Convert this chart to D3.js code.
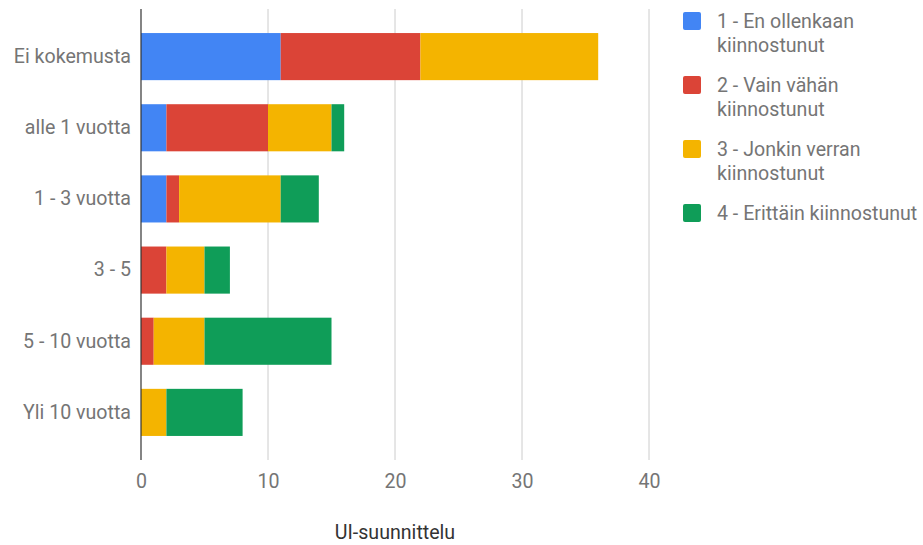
<!DOCTYPE html>
<html>
<head>
<meta charset="utf-8">
<script src="https://cdn.jsdelivr.net/npm/d3@7"></script>
<style>
  body { margin: 0; background: #fff; }
  text { font-family: Roboto, "Noto Sans", sans-serif; }
</style>
</head>
<body>
<div id="chart"></div>
<script>
// data
const categories = ["Ei kokemusta", "alle 1 vuotta", "1 - 3 vuotta", "3 - 5", "5 - 10 vuotta", "Yli 10 vuotta"];
const seriesNames = ["1 - En ollenkaan kiinnostunut", "2 - Vain vähän kiinnostunut", "3 - Jonkin verran kiinnostunut", "4 - Erittäin kiinnostunut"];
const legendLines = [["1 - En ollenkaan", "kiinnostunut"], ["2 - Vain vähän", "kiinnostunut"], ["3 - Jonkin verran", "kiinnostunut"], ["4 - Erittäin kiinnostunut"]];
const s1 = [11, 2, 2, 0, 0, 0];
const s2 = [11, 8, 1, 2, 1, 0];
const s3 = [14, 5, 8, 3, 4, 2];
const s4 = [0, 1, 3, 2, 10, 6];
const xTicks = [0, 10, 20, 30, 40];
const axisTitle = "UI-suunnittelu";
const colors = ["#4285f4", "#db4437", "#f4b400", "#0f9d58"];

const W = 923, H = 545;
const plot = {left: 141, right: 649, top: 9, bottom: 460};
const fs = 19.6;

const svg = d3.select("#chart").append("svg")
    .attr("width", W)
    .attr("height", H);

// build a table for d3.stack
const keys = ["s1", "s2", "s3", "s4"];
const table = categories.map((c, i) => ({cat: c, s1: s1[i], s2: s2[i], s3: s3[i], s4: s4[i]}));
const stacked = d3.stack().keys(keys)(table);

const x = d3.scaleLinear()
    .domain([0, 40])
    .range([plot.left, plot.right]);

const y = d3.scaleBand()
    .domain(categories)
    .range([plot.top, plot.bottom])
    .paddingInner(0.338)
    .paddingOuter(0.338);

const color = d3.scaleOrdinal().domain(keys).range(colors);

// gridlines
svg.append("g")
    .selectAll("line")
    .data(xTicks.slice(1))
    .join("line")
    .attr("x1", d => x(d))
    .attr("x2", d => x(d))
    .attr("y1", plot.top)
    .attr("y2", plot.bottom)
    .attr("stroke", "#cccccc")
    .attr("stroke-width", 1);

// bars
svg.append("g")
    .selectAll("g")
    .data(stacked)
    .join("g")
    .attr("fill", d => color(d.key))
    .selectAll("rect")
    .data(d => d)
    .join("rect")
    .attr("x", d => x(d[0]))
    .attr("y", d => y(d.data.cat))
    .attr("width", d => Math.max(0, x(d[1]) - x(d[0])))
    .attr("height", y.bandwidth());

// baseline axis
svg.append("line")
    .attr("x1", x(0)).attr("x2", x(0))
    .attr("y1", plot.top).attr("y2", plot.bottom)
    .attr("stroke", "#333333")
    .attr("stroke-width", 1.2);

// x tick labels
const xAxis = svg.append("g")
    .attr("transform", "translate(0," + plot.bottom + ")")
    .call(d3.axisBottom(x).tickValues(xTicks).tickSize(0).tickPadding(14));
xAxis.select(".domain").remove();
xAxis.selectAll("text")
    .attr("font-size", fs)
    .attr("fill", "#757575")
    .attr("font-family", "Roboto, sans-serif");

// category labels
const yAxis = svg.append("g")
    .attr("transform", "translate(" + plot.left + ",0)")
    .call(d3.axisLeft(y).tickSize(0).tickPadding(10));
yAxis.select(".domain").remove();
yAxis.selectAll("text")
    .attr("font-size", fs)
    .attr("fill", "#757575")
    .attr("font-family", "Roboto, sans-serif");

// axis title
svg.append("text")
    .attr("x", (plot.left + plot.right) / 2)
    .attr("y", 539)
    .attr("text-anchor", "middle")
    .attr("font-size", fs)
    .attr("fill", "#333333")
    .text(axisTitle);

// legend
const legend = svg.append("g")
    .selectAll("g")
    .data(seriesNames)
    .join("g")
    .attr("transform", (d, i) => "translate(683," + (12 + i * 64) + ")");

legend.append("rect")
    .attr("width", 18)
    .attr("height", 18)
    .attr("rx", 2)
    .attr("fill", (d, i) => colors[i]);

legend.append("text")
    .attr("x", 34)
    .attr("y", 16)
    .attr("font-size", fs)
    .attr("fill", "#757575")
    .selectAll("tspan")
    .data((d, i) => legendLines[i])
    .join("tspan")
    .attr("x", 34)
    .attr("dy", (d, j) => j === 0 ? 0 : 24)
    .text(d => d);
</script>
</body>
</html>
